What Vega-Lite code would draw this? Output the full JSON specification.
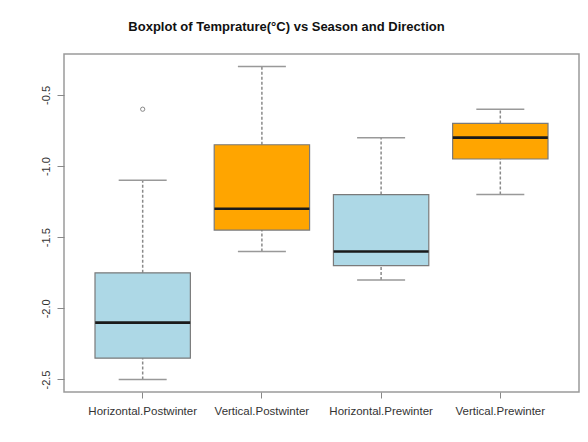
{
  "$schema": "https://vega.github.io/schema/vega-lite/v6.json",
  "width": 515,
  "height": 338,
  "autosize": {"type": "none"},
  "padding": {"left": 64, "top": 54, "right": 9, "bottom": 50},
  "background": "white",
  "title": {
    "text": "Boxplot of Temprature(°C) vs Season and Direction",
    "font": "Liberation Sans",
    "fontSize": 13,
    "fontWeight": "bold",
    "color": "#111111",
    "anchor": "middle",
    "dx": -35,
    "offset": 20
  },
  "datasets": {
    "boxes": [
      {"group": "Horizontal.Postwinter", "lo": -2.5, "q1": -2.35, "median": -2.1, "q3": -1.75, "hi": -1.1},
      {"group": "Vertical.Postwinter", "lo": -1.6, "q1": -1.45, "median": -1.3, "q3": -0.85, "hi": -0.3},
      {"group": "Horizontal.Prewinter", "lo": -1.8, "q1": -1.7, "median": -1.6, "q3": -1.2, "hi": -0.8},
      {"group": "Vertical.Prewinter", "lo": -1.2, "q1": -0.95, "median": -0.8, "q3": -0.7, "hi": -0.6}
    ],
    "outliers": [
      {"group": "Horizontal.Postwinter", "value": -0.6}
    ]
  },
  "encoding": {
    "x": {
      "field": "group",
      "type": "nominal",
      "scale": {
        "domain": ["Horizontal.Postwinter", "Vertical.Postwinter", "Horizontal.Prewinter", "Vertical.Prewinter"],
        "paddingInner": 0.2,
        "paddingOuter": 0.26
      },
      "axis": {
        "title": null,
        "labelAngle": 0,
        "domain": false,
        "tickSize": 6,
        "tickColor": "#888888",
        "labelPadding": 7,
        "labelFontSize": 11.5,
        "labelFont": "Liberation Sans",
        "labelColor": "#333333"
      }
    }
  },
  "layer": [
    {
      "data": {"name": "boxes"},
      "mark": {"type": "rule", "stroke": "#8a8a8a", "strokeWidth": 1.5, "strokeDash": [3, 2]},
      "encoding": {
        "y": {
          "field": "lo",
          "type": "quantitative",
          "scale": {"domain": [-2.588, -0.212], "nice": false, "zero": false},
          "axis": {
            "values": [-2.5, -2, -1.5, -1, -0.5],
            "labelExpr": "replace(format(datum.value, '.1f'), '\u2212', '-')",
            "labelAngle": -90,
            "labelAlign": "center",
            "labelBaseline": "bottom",
            "labelPadding": 6,
            "labelFontSize": 11,
            "labelFont": "Liberation Sans",
            "labelColor": "#333333",
            "grid": false,
            "domain": false,
            "tickSize": 7,
            "tickColor": "#888888",
            "title": null
          }
        },
        "y2": {"field": "q1"}
      }
    },
    {
      "data": {"name": "boxes"},
      "mark": {"type": "rule", "stroke": "#8a8a8a", "strokeWidth": 1.5, "strokeDash": [3, 2]},
      "encoding": {
        "y": {"field": "q3", "type": "quantitative"},
        "y2": {"field": "hi"}
      }
    },
    {
      "data": {"name": "boxes"},
      "mark": {"type": "tick", "color": "#999999", "size": 48, "thickness": 1.5, "opacity": 1},
      "encoding": {
        "y": {"field": "lo", "type": "quantitative"}
      }
    },
    {
      "data": {"name": "boxes"},
      "mark": {"type": "tick", "color": "#999999", "size": 48, "thickness": 1.5, "opacity": 1},
      "encoding": {
        "y": {"field": "hi", "type": "quantitative"}
      }
    },
    {
      "data": {"name": "boxes"},
      "mark": {"type": "bar", "stroke": "#7a7a7a", "strokeWidth": 1.2, "opacity": 1},
      "encoding": {
        "y": {"field": "q1", "type": "quantitative"},
        "y2": {"field": "q3"},
        "color": {
          "field": "group",
          "type": "nominal",
          "scale": {
            "domain": ["Horizontal.Postwinter", "Vertical.Postwinter", "Horizontal.Prewinter", "Vertical.Prewinter"],
            "range": ["#ADD8E6", "#FFA500", "#ADD8E6", "#FFA500"]
          },
          "legend": null
        }
      }
    },
    {
      "data": {"name": "boxes"},
      "mark": {"type": "tick", "color": "#1a1a1a", "size": 95, "thickness": 2.6, "opacity": 1},
      "encoding": {
        "y": {"field": "median", "type": "quantitative"}
      }
    },
    {
      "data": {"name": "outliers"},
      "mark": {"type": "point", "filled": false, "stroke": "#888888", "strokeWidth": 1, "size": 18, "opacity": 1},
      "encoding": {
        "y": {"field": "value", "type": "quantitative"}
      }
    }
  ],
  "config": {
    "font": "Liberation Sans",
    "view": {"stroke": "#9a9a9a", "strokeWidth": 1.5}
  }
}
